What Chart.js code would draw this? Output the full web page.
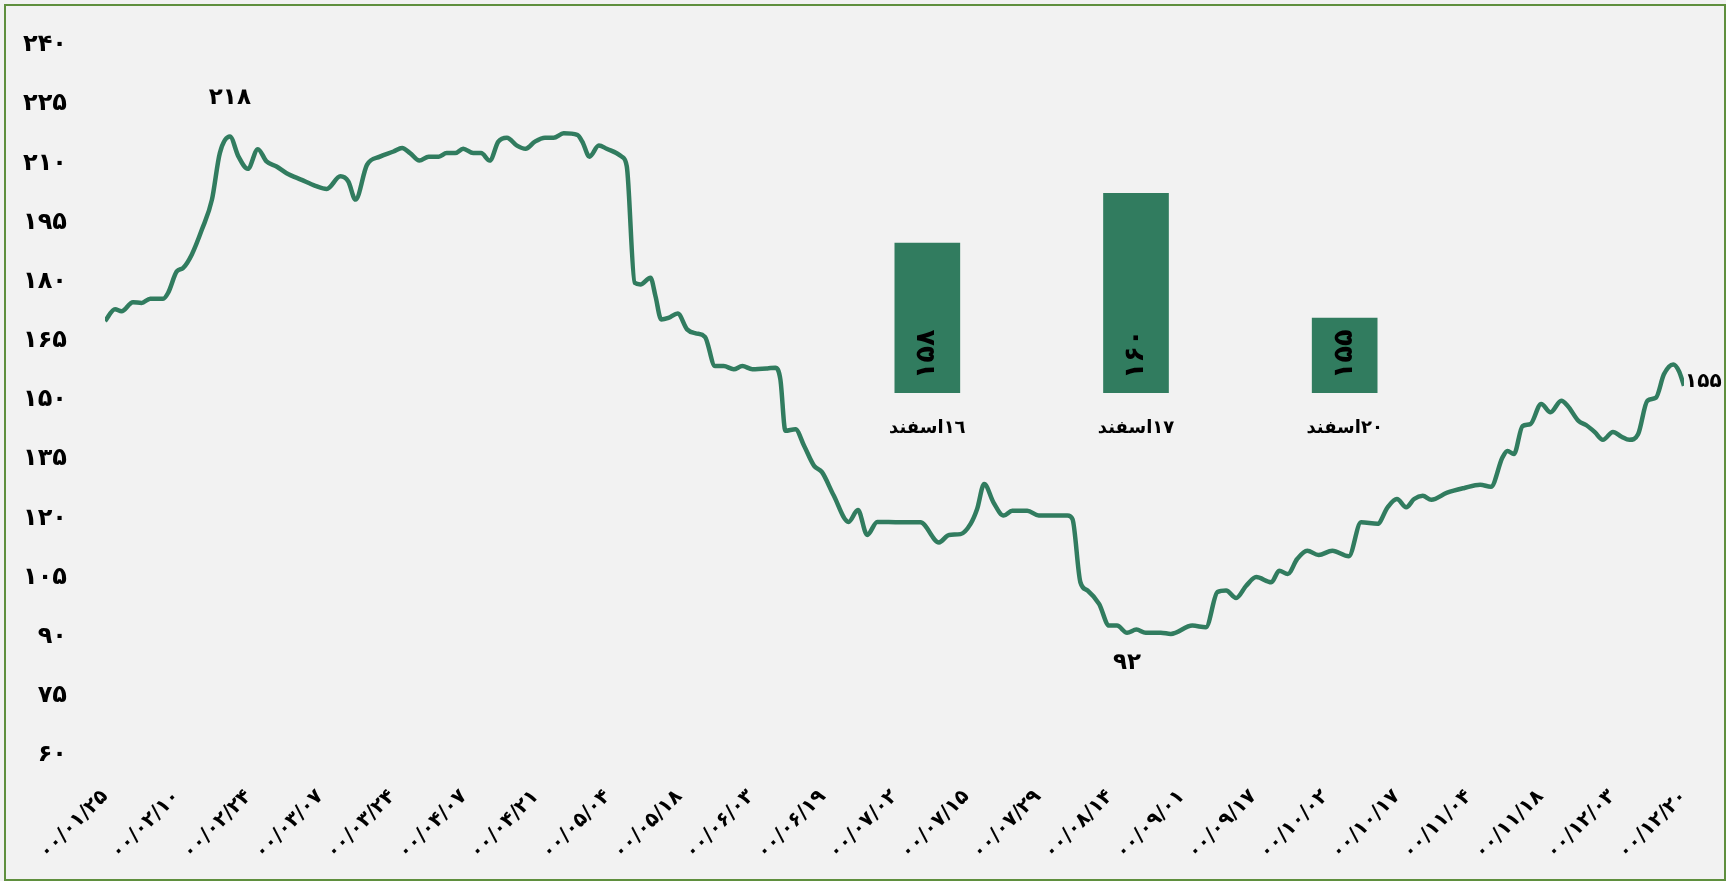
<!DOCTYPE html>
<html>
<head>
<meta charset="utf-8">
<script src="https://cdn.jsdelivr.net/npm/chart.js@4.4.1/dist/chart.umd.min.js"></script>
<style>
  html, body { margin: 0; padding: 0; background: #f2f2f2; }
  #frame { position: absolute; left: 4px; top: 4px; width: 1722px; height: 877px; box-sizing: border-box; border: 2px solid #5f8f3e; }
  #main { position: absolute; left: 0; top: 0; }
  #bars { position: absolute; left: 813px; top: 183px; }
</style>
</head>
<body>
<div id="frame"></div>
<canvas id="main" width="1726" height="881"></canvas>
<canvas id="bars" width="646" height="270"></canvas>
<script>
// tick labels, one every 10 trading days
const tickLabels = ['۰۰/۰۱/۲۵', '۰۰/۰۲/۱۰', '۰۰/۰۲/۲۴', '۰۰/۰۳/۰۷', '۰۰/۰۳/۲۴', '۰۰/۰۴/۰۷', '۰۰/۰۴/۲۱', '۰۰/۰۵/۰۴',
    '۰۰/۰۵/۱۸', '۰۰/۰۶/۰۳', '۰۰/۰۶/۱۹', '۰۰/۰۷/۰۲', '۰۰/۰۷/۱۵', '۰۰/۰۷/۲۹', '۰۰/۰۸/۱۴', '۰۰/۰۹/۰۱',
    '۰۰/۰۹/۱۷', '۰۰/۱۰/۰۲', '۰۰/۱۰/۱۷', '۰۰/۱۱/۰۴', '۰۰/۱۱/۱۸', '۰۰/۱۲/۰۳', '۰۰/۱۲/۲۰'];

// trading day position of each reading
const days = [0, 1.4, 2.3, 3.9, 5.1, 6.3, 8.1, 8.8, 10, 10.9, 12.1, 13.5, 14.9, 16, 17.4, 18.6, 19.9, 21.3, 22.5, 23.9,
    25.3, 27.4, 29.3, 30.9, 32.8, 33.9, 34.9, 36.5, 38.3, 40.2, 41.4, 42.5, 43.8, 45.1, 46.5, 47.6, 48.8, 49.9, 51.3, 52.4,
    53.6, 54.8, 56, 57.4, 58.6, 59.9, 61.3, 62.5, 63.9, 65.8, 66.5, 67.5, 68.8, 69.9, 72, 72.7, 73.8, 74.6, 76, 76.7,
    77.5, 78.5, 79.8, 81.1, 82.3, 83.6, 85, 86.2, 87.6, 88.8, 90.2, 92.3, 93.4, 94.1, 94.8, 96.2, 97.4, 98.8, 99.9, 101.5,
    103.6, 104.9, 106.2, 107.6, 110.8, 113.6, 116.2, 117.6, 119.2, 120.6, 121.5, 122.5, 123.8, 125.2, 126.4, 128.5, 130.1, 134.1, 134.8, 135.9,
    136.9, 138.5, 139.9, 141, 142.4, 143.7, 145, 147.1, 148.5, 151.5, 153.4, 155, 156.2, 157.6, 159, 160.4, 162.5, 163.6, 164.8, 166.1,
    167.5, 169.1, 171, 173.3, 175, 177.3, 178.7, 180, 181.3, 182.4, 183.6, 184.8, 187, 189.4, 191.6, 193.1, 194.7, 195.4, 196.3, 197.5,
    198.6, 200.1, 201.4, 202.9, 203.8, 205.3, 206.4, 207.6, 208.7, 210.1, 211.3, 212.4, 213.6, 214.9, 216.1, 217.2, 218.5, 219.3, 220];

const indexValues = [170.0, 173.0, 172.5, 174.8, 174.6, 175.7, 175.7, 177.2, 182.6, 183.5, 186.9, 193.2, 200.8, 212.6, 216.8, 211.7, 208.6, 213.6, 210.5, 209.2,
    207.5, 205.8, 204.3, 203.5, 206.7, 205.4, 200.8, 209.6, 211.7, 213.0, 213.9, 212.6, 210.7, 211.7, 211.7, 212.6, 212.6, 213.7, 212.6, 212.6,
    210.7, 215.5, 216.5, 214.5, 213.7, 215.5, 216.5, 216.5, 217.6, 217.2, 215.5, 211.7, 214.5, 213.7, 211.7, 209.2, 179.7, 179.3, 181.0, 176.3,
    170.4, 170.8, 171.9, 167.9, 166.9, 166.0, 158.6, 158.6, 157.8, 158.6, 157.8, 158.0, 158.2, 155.2, 142.2, 142.6, 138.4, 133.3, 131.7, 125.9,
    119.1, 122.1, 115.8, 119.1, 119.0, 119.0, 113.9, 115.8, 116.0, 118.6, 122.3, 128.7, 124.0, 120.7, 121.9, 121.9, 120.7, 120.7, 119.8, 103.8,
    101.7, 98.3, 92.8, 92.8, 91.0, 91.8, 91.0, 91.0, 90.7, 92.8, 92.4, 101.3, 101.7, 99.8, 102.9, 105.1, 103.8, 106.7, 105.9, 109.7,
    111.8, 110.7, 111.8, 110.4, 119.0, 118.6, 122.8, 124.9, 122.8, 124.9, 125.7, 124.7, 126.5, 127.7, 128.5, 128.0, 135.4, 137.1, 136.3, 143.4,
    143.9, 149.0, 146.9, 149.8, 148.5, 144.7, 143.6, 141.8, 139.9, 141.9, 140.7, 139.9, 141.3, 149.8, 150.6, 156.5, 159.0, 157.3, 153.6];

// inset bars
const barLabels = ['١٦اسفند', '١٧اسفند', '٢٠اسفند'];
const barValues = [158, 160, 155];

const green = '#317c5f';
const faDigits = s => String(s).replace(/\d/g, d => '۰۱۲۳۴۵۶۷۸۹'[d]);

Chart.defaults.font.family = "'DejaVu Sans', sans-serif";
Chart.defaults.font.weight = 'bold';
Chart.defaults.color = '#000';

// text notes next to a few points of the line
const pointNotes = [
    { idx: days.indexOf(17.4), text: '۲۱۸', dx: 0, dy: -38, align: 'center', size: 23 },
    { idx: days.indexOf(142.4), text: '۹۲', dx: 0, dy: 30, align: 'center', size: 23 },
    { idx: days.length - 1, text: '۱۵۵', dx: 1, dy: -4, align: 'left', size: 20 }
];

const notesPlugin = {
    id: 'notes',
    afterDraw(chart) {
        const ctx = chart.ctx;
        const pts = chart.getDatasetMeta(0).data;
        ctx.save();
        ctx.fillStyle = '#000';
        ctx.textBaseline = 'middle';
        pointNotes.forEach(n => {
            const p = pts[n.idx];
            ctx.font = `bold ${n.size}px 'DejaVu Sans'`;
            ctx.textAlign = n.align;
            ctx.fillText(n.text, p.x + n.dx, p.y + n.dy);
        });
        ctx.restore();
    }
};

new Chart(document.getElementById('main'), {
    type: 'line',
    data: {
        datasets: [{
            data: days.map((d, i) => ({ x: d, y: indexValues[i] })),
            borderColor: green,
            borderWidth: 4.5,
            pointRadius: 0,
            cubicInterpolationMode: 'monotone',
            fill: false
        }]
    },
    options: {
        responsive: false,
        animation: false,
        layout: { padding: { left: 5, right: 42, top: 45, bottom: 26 }, autoPadding: false },
        plugins: { legend: { display: false }, tooltip: { enabled: false } },
        scales: {
            x: {
                type: 'linear', min: 0, max: 220,
                grid: { display: false, drawTicks: false },
                border: { display: false },
                ticks: {
                    stepSize: 10, autoSkip: false, maxRotation: 45, minRotation: 45, padding: 30,
                    font: { size: 20 },
                    callback: v => tickLabels[v / 10] ?? ''
                },
                afterFit: s => { s.height = 100; s.paddingLeft = 0; s.paddingRight = 0; }
            },
            y: {
                min: 60, max: 240,
                grid: { display: false, drawTicks: false },
                border: { display: false },
                ticks: { stepSize: 15, padding: 38, font: { size: 24 }, callback: v => faDigits(v) },
                afterFit: s => { s.width = 100; s.paddingTop = 0; s.paddingBottom = 0; }
            }
        }
    },
    plugins: [notesPlugin]
});

// value written upright inside each bar, from its foot
const barValuePlugin = {
    id: 'barText',
    afterDraw(chart) {
        const ctx = chart.ctx;
        const xs = chart.scales.x;
        const base = chart.scales.y.getPixelForValue(chart.scales.y.min);
        ctx.save();
        ctx.font = "bold 27px 'DejaVu Sans'";
        ctx.fillStyle = '#000';
        ctx.textAlign = 'left';
        ctx.textBaseline = 'middle';
        barValues.forEach((v, i) => {
            ctx.save();
            ctx.translate(xs.getPixelForValue(i), base - 14);
            ctx.rotate(-Math.PI / 2);
            ctx.fillText(faDigits(v), 0, 0);
            ctx.restore();
        });
        ctx.restore();
    }
};

new Chart(document.getElementById('bars'), {
    type: 'bar',
    data: {
        labels: barLabels,
        datasets: [{ data: barValues, backgroundColor: green, barThickness: 65 }]
    },
    options: {
        responsive: false,
        animation: false,
        layout: { padding: { left: 10, right: 10, top: 10, bottom: 10 }, autoPadding: false },
        plugins: { legend: { display: false }, tooltip: { enabled: false } },
        scales: {
            x: {
                grid: { display: false, drawTicks: false },
                border: { display: false },
                ticks: { padding: 25, font: { size: 18 } },
                afterFit: s => { s.height = 50; s.paddingLeft = 0; s.paddingRight = 0; }
            },
            y: { display: false, min: 152, max: 160 }
        }
    },
    plugins: [barValuePlugin]
});
</script>
</body>
</html>
